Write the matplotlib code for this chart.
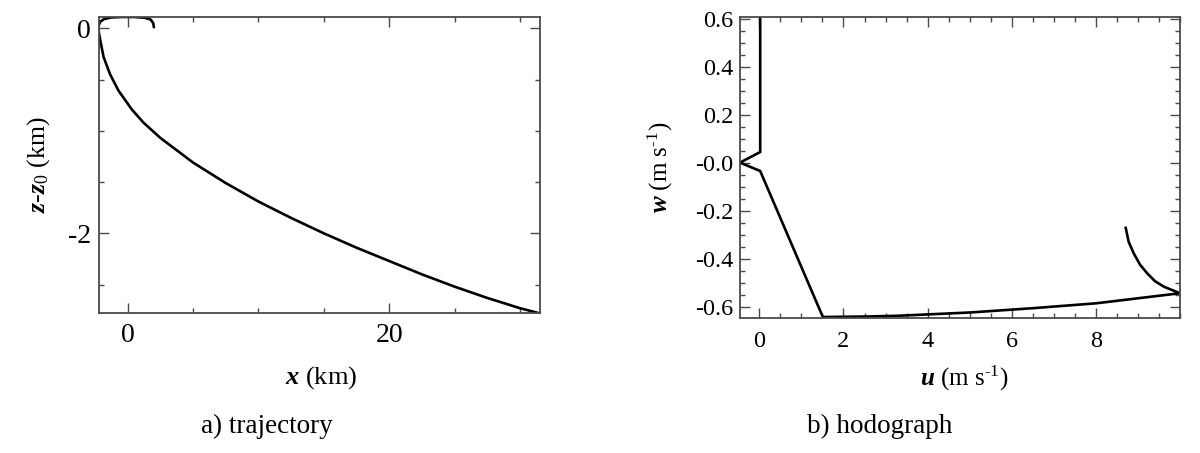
import matplotlib
matplotlib.use("Agg")
import matplotlib.pyplot as plt
from matplotlib.ticker import MultipleLocator, FixedLocator, FixedFormatter

plt.rcParams['font.family'] = ['Liberation Serif', 'DejaVu Serif']
plt.rcParams['mathtext.fontset'] = 'custom'
plt.rcParams['mathtext.rm'] = 'Liberation Serif'
plt.rcParams['mathtext.it'] = 'Liberation Serif:italic'
plt.rcParams['mathtext.bf'] = 'Liberation Serif:bold'
plt.rcParams['mathtext.bfit'] = 'Liberation Serif:italic:bold'
plt.rcParams['axes.unicode_minus'] = False

# ---- data: a) trajectory ----
traj_x_km = [2.0, 1.95, 1.75, 1.3, 0.5, -0.5, -1.3, -1.8, -2.1, -2.22, -2.25,
             -2.2, -2.1, -1.85, -1.35, -0.7, 0.3, 1.2, 2.5, 5.0, 7.5, 10.0, 12.5,
             15.0, 17.5, 20.0, 22.5, 25.0, 27.5, 30.0, 31.5]
traj_dz_km = [0.01, 0.05, 0.085, 0.103, 0.11, 0.11, 0.105, 0.09, 0.065, 0.03, 0.0,
              -0.05, -0.12, -0.28, -0.45, -0.61, -0.79, -0.92, -1.07, -1.31, -1.51,
              -1.69, -1.85, -2.0, -2.14, -2.27, -2.40, -2.52, -2.63, -2.73, -2.78]

# ---- data: b) hodograph ----
hodo_u = [0.02, 0.02, -0.46, 0.02, 1.51, 2.5, 3.27, 5.02, 6.52, 8.0, 9.0, 10.0,
          9.62, 9.4, 9.22, 9.05, 8.9, 8.78, 8.71]
hodo_w = [0.70, 0.044, 0.0, -0.035, -0.643, -0.641, -0.638, -0.624, -0.606, -0.586,
          -0.565, -0.544, -0.517, -0.493, -0.461, -0.425, -0.378, -0.33, -0.272]

traj_xticks = [0, 20]
traj_yticks = [-2, 0]
hodo_xticks = [0, 2, 4, 6, 8]
hodo_yticks = [-0.6, -0.4, -0.2, 0.0, 0.2, 0.4, 0.6]
hodo_ytick_labels = ['-0.6', '-0.4', '-0.2', '-0.0', '0.2', '0.4', '0.6']

W, H = 1200, 453
fig = plt.figure(figsize=(W / 100, H / 100), dpi=100)

spine_col = '#4a4a4a'

def style(ax, xsize, ysize, xpad, ypad):
    for s in ax.spines.values():
        s.set_color(spine_col)
        s.set_linewidth(1.3)
    ax.tick_params(which='both', direction='in', top=True, right=True,
                   colors=spine_col, labelcolor='black', width=1.0)
    ax.tick_params(which='major', length=7)
    ax.tick_params(which='minor', length=3.5)
    ax.tick_params(axis='x', labelsize=xsize, pad=xpad)
    ax.tick_params(axis='y', labelsize=ysize, pad=ypad)

# left axes
ax1 = fig.add_axes([99 / W, 1 - 313.3 / H, 440.5 / W, 296.3 / H])
ax1.plot(traj_x_km, traj_dz_km, color='black', lw=1.9, solid_capstyle='round',
         solid_joinstyle='round')
ax1.set_xlim(-2.2, 31.5)
ax1.set_ylim(-2.78, 0.11)
ax1.xaxis.set_major_locator(FixedLocator(traj_xticks))
ax1.xaxis.set_minor_locator(MultipleLocator(5))
ax1.yaxis.set_major_locator(FixedLocator(traj_yticks))
ax1.yaxis.set_minor_locator(MultipleLocator(0.5))
style(ax1, 20, 20, 7, 6)

# right axes
ax2 = fig.add_axes([740 / W, 1 - 317.5 / H, 440 / W, 300.2 / H])
ax2.plot(hodo_u, hodo_w, color='black', lw=1.9, solid_joinstyle='round')
ax2.set_xlim(-0.46, 10.0)
ax2.set_ylim(-0.645, 0.605)
ax2.xaxis.set_major_locator(FixedLocator(hodo_xticks))
ax2.xaxis.set_minor_locator(MultipleLocator(0.5))
ax2.yaxis.set_major_locator(FixedLocator(hodo_yticks))
ax2.yaxis.set_major_formatter(FixedFormatter(hodo_ytick_labels))
ax2.yaxis.set_minor_locator(MultipleLocator(0.05))
style(ax2, 17.5, 17.5, 10, 5)

# axis labels
fig.text(321 / W, 1 - 384 / H, r'$\mathbfit{x}$ (km)', ha='center', va='baseline', fontsize=19)
fig.text(964 / W, 1 - 385.7 / H, r'$\mathbfit{u}$ (m s$^{\text{-1}}$)', ha='center', va='baseline', fontsize=18)
fig.text(39 / W, 1 - 165 / H, r'$\mathbfit{z}$-$\mathbfit{z}_{\mathregular{0}}$ (km)', ha='center', va='center',
         rotation=90, fontsize=18.5)
fig.text(660 / W, 1 - 167 / H, r'$\mathbfit{w}$ (m s$^{\text{-1}}$)', ha='center', va='center',
         rotation=90, fontsize=18)

# captions
fig.text(267 / W, 1 - 433 / H, 'a) trajectory', ha='center', va='baseline', fontsize=19.5)
fig.text(880 / W, 1 - 433 / H, 'b) hodograph', ha='center', va='baseline', fontsize=19.5)

fig.savefig('out.png', dpi=100)
